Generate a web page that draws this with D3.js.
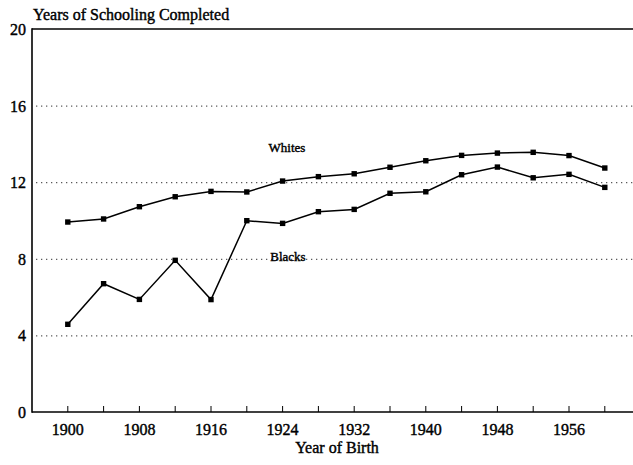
<!DOCTYPE html>
<html><head><meta charset="utf-8">
<script src="https://cdn.jsdelivr.net/npm/d3@7"></script>
<style>body{margin:0;background:#fff}svg{display:block}</style>
</head><body><svg id="c" width="633" height="465"></svg>
<script>
const years = [1900,1904,1908,1912,1916,1920,1924,1928,1932,1936,1940,1944,1948,1952,1956,1960];
const whites = [9.92,10.08,10.72,11.24,11.52,11.49,12.06,12.29,12.44,12.78,13.12,13.40,13.52,13.56,13.39,12.74];
const blacks = [4.58,6.70,5.88,7.92,5.87,9.99,9.85,10.46,10.58,11.42,11.50,12.39,12.79,12.23,12.41,11.73];
const yTicks = [0,4,8,12,16,20];
const xTickLabels = [1900,1908,1916,1924,1932,1940,1948,1956];
const tickYears = [1900,1904,1908,1912,1916,1920,1924,1928,1932,1936,1940,1944,1948,1952,1956,1960];

const FONT = "'Liberation Serif', 'Times New Roman', 'DejaVu Serif', serif";
const svg = d3.select("#c");
const x = d3.scaleLinear().domain([1896,1964]).range([32, 640.6]);
const y = d3.scaleLinear().domain([0,20]).range([412, 29]);
const right = 633;

function txt(sel, size){
  return sel.attr("font-family", FONT).attr("font-size", size).attr("fill","#000")
    .attr("stroke","#000").attr("stroke-width",0.4);
}

// gridlines
svg.append("g").selectAll("line").data([4,8,12,16]).join("line")
  .attr("x1", 36).attr("x2", right).attr("y1", d=>y(d)+0.5).attr("y2", d=>y(d)+0.5)
  .attr("stroke","#333").attr("stroke-width",1).attr("stroke-dasharray","1.3,3.7");

// frame lines
svg.append("line").attr("x1",32).attr("x2",right).attr("y1",y(20)).attr("y2",y(20)).attr("stroke","#000").attr("stroke-width",1.6);
svg.append("line").attr("x1",32).attr("x2",right).attr("y1",y(0)).attr("y2",y(0)).attr("stroke","#000").attr("stroke-width",1.4);
svg.append("line").attr("x1",32).attr("x2",32).attr("y1",y(20)-0.8).attr("y2",y(0)+0.7).attr("stroke","#000").attr("stroke-width",1.6);

// x ticks (inward)
svg.append("g").selectAll("line").data(tickYears).join("line")
  .attr("x1", d=>x(d)).attr("x2", d=>x(d)).attr("y1", y(0)).attr("y2", y(0)-6)
  .attr("stroke","#000").attr("stroke-width",1);

// y tick labels
txt(svg.append("g").selectAll("text").data(yTicks).join("text")
  .attr("x", 26).attr("y", d=>y(d)+6).attr("text-anchor","end"), 16).text(d=>d);

// x tick labels
txt(svg.append("g").selectAll("text").data(xTickLabels).join("text")
  .attr("x", d=>x(d)).attr("y", 435).attr("text-anchor","middle"), 16).text(d=>d);

txt(svg.append("text").attr("x",337).attr("y",453).attr("text-anchor","middle"), 16).text("Year of Birth");
txt(svg.append("text").attr("x",33).attr("y",20), 16).text("Years of Schooling Completed");

const line = d3.line().x((d,i)=>x(years[i])).y(d=>y(d));
[whites, blacks].forEach(s=>{
  svg.append("path").datum(s).attr("d", line).attr("fill","none").attr("stroke","#000").attr("stroke-width",1.5);
  svg.append("g").selectAll("rect").data(s).join("rect")
    .attr("x",(d,i)=>x(years[i])-2.7).attr("y",d=>y(d)-2.7).attr("width",5.4).attr("height",5.4).attr("fill","#000");
});

txt(svg.append("text").attr("x",287).attr("y",152).attr("text-anchor","middle"), 13).text("Whites");
txt(svg.append("text").attr("x",288).attr("y",261).attr("text-anchor","middle"), 13).text("Blacks");
</script></body></html>
